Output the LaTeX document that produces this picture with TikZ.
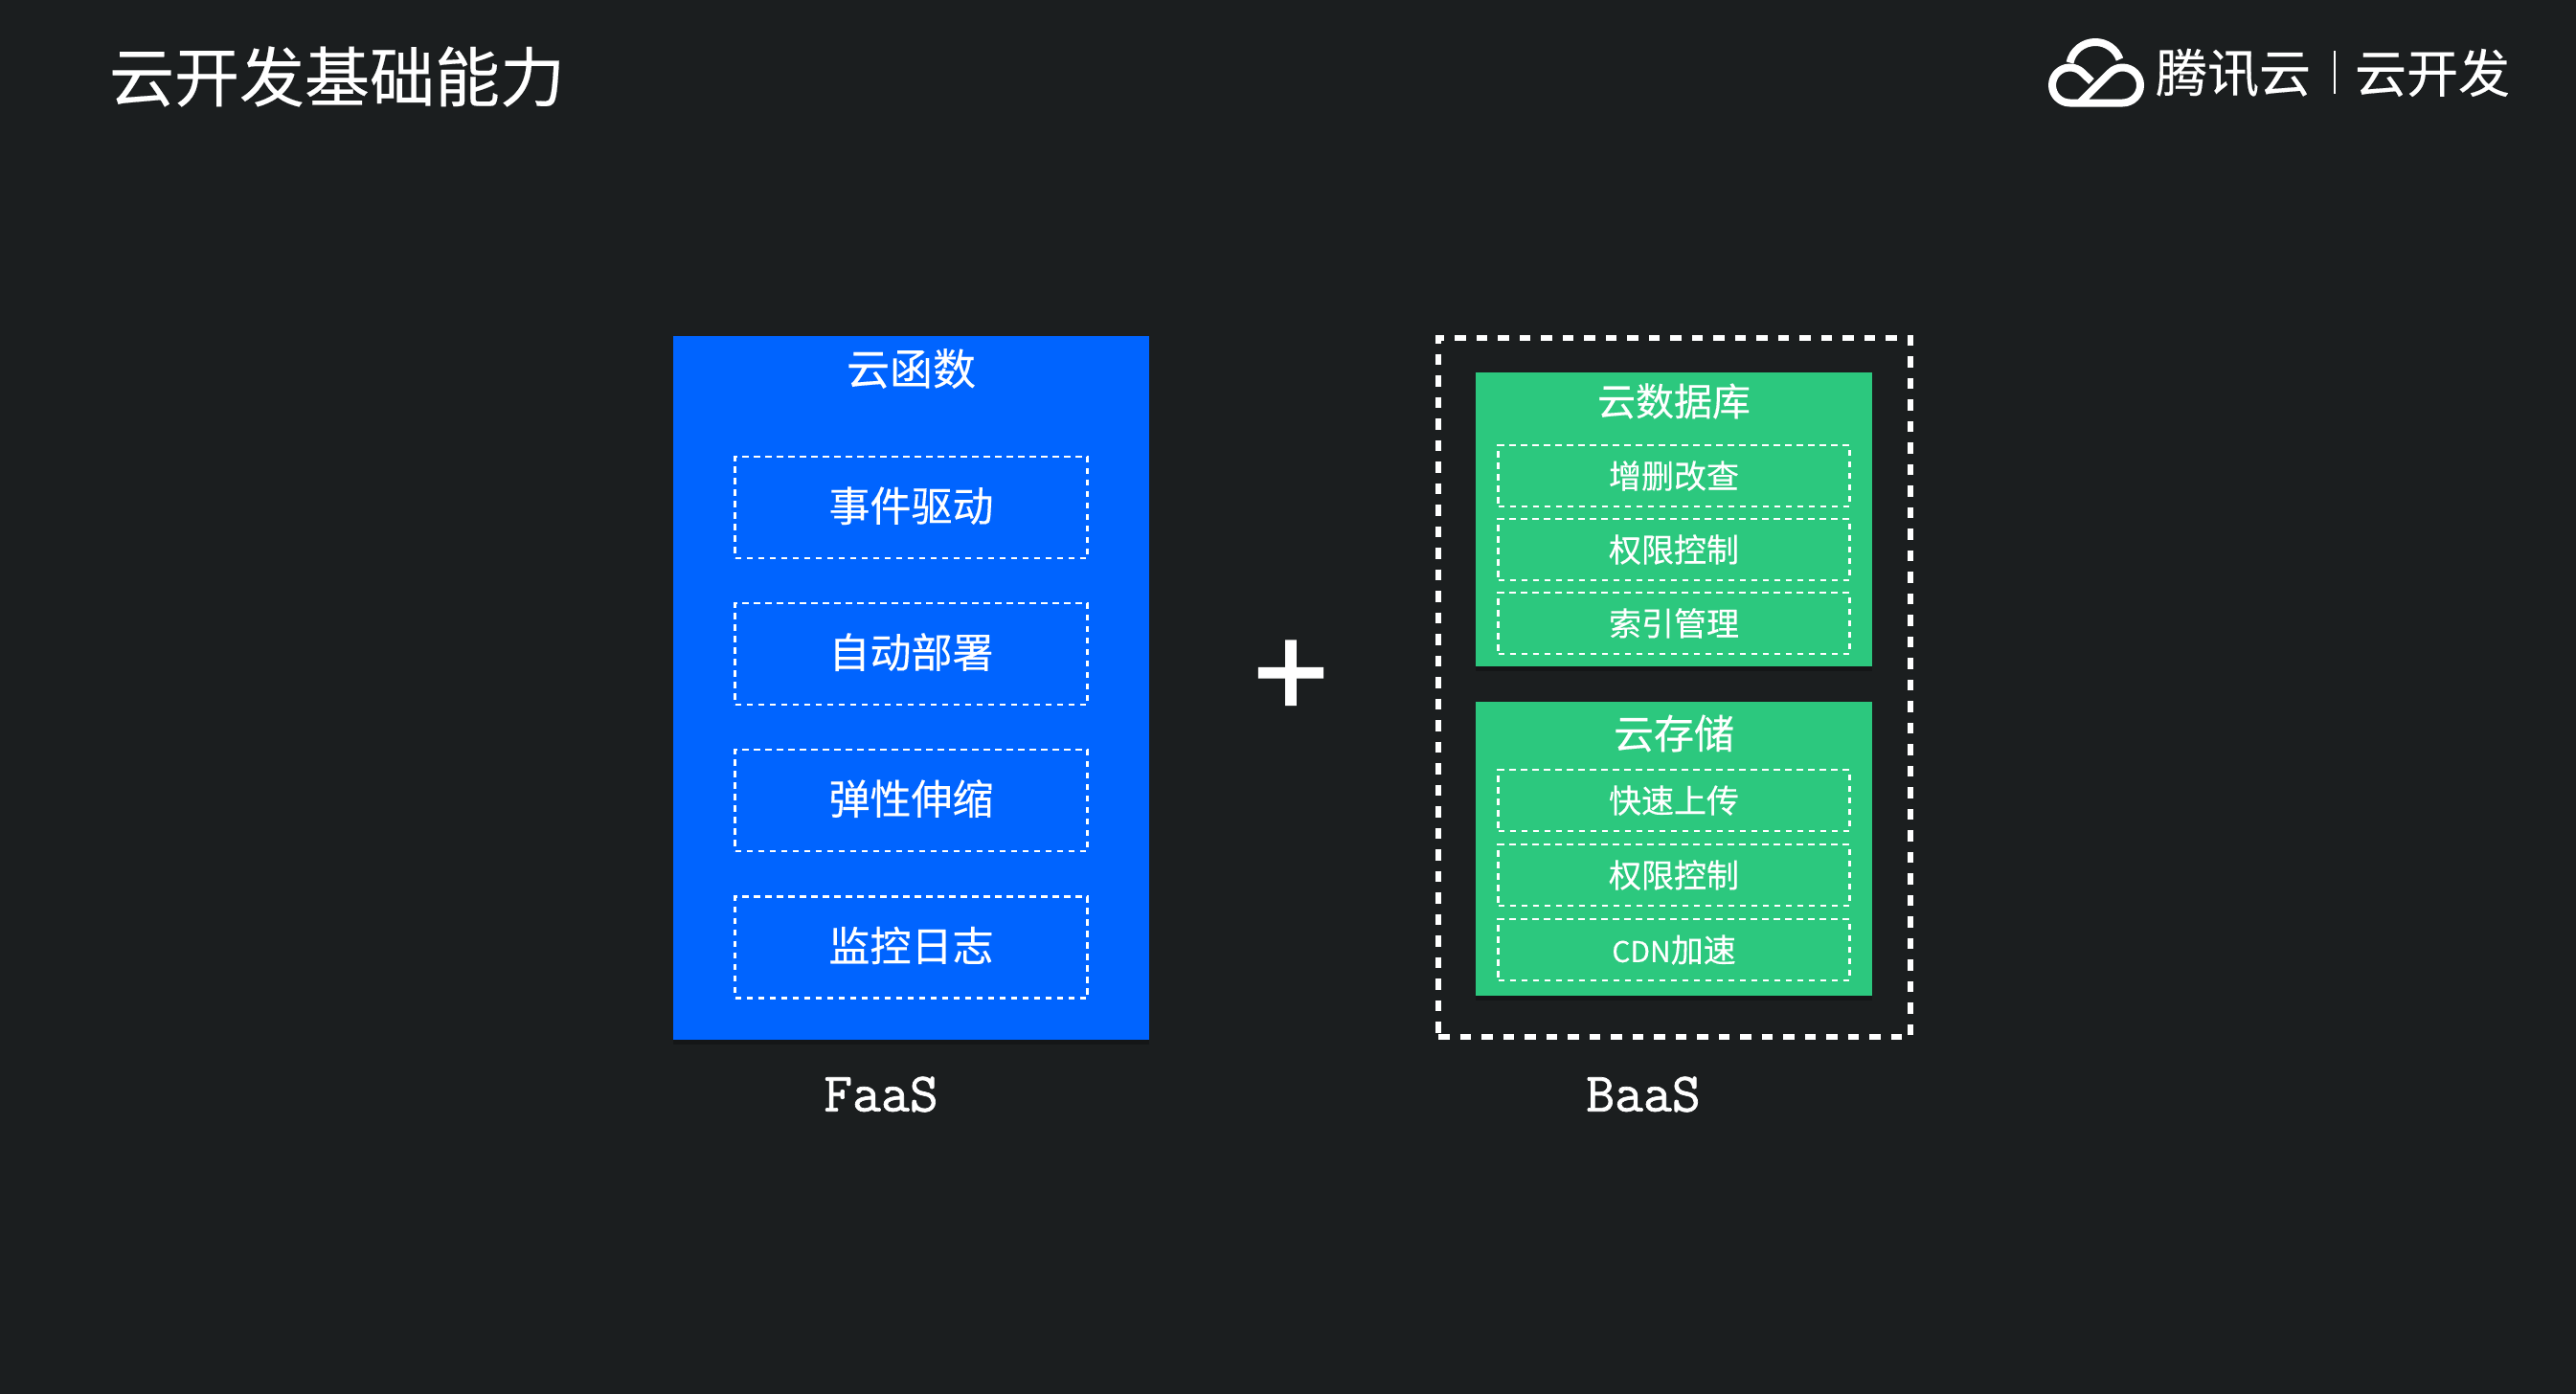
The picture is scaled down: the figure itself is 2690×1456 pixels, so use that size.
\documentclass[tikz,border=0pt]{standalone}
\usepackage{fontspec}
\usetikzlibrary{shadows}
\setmainfont{Noto Sans CJK SC}
\newfontfamily\cjk{Noto Sans CJK SC}[FakeBold=0.25]
\newfontfamily\monolabel{Latin Modern Mono}[FakeBold=1.2]
\newfontfamily\plusfont{Liberation Sans}[FakeBold=1.5]
\definecolor{bgdark}{HTML}{1B1E1F}
\definecolor{faasblue}{HTML}{0064FF}
\definecolor{baasgreen}{HTML}{2CC87E}
\newcommand{\fsz}[1]{\fontsize{#1pt}{#1pt}\selectfont}
\tikzset{
  panel/.style={rectangle,inner sep=0pt,outer sep=0pt,drop shadow={shadow xshift=0pt,shadow yshift=-5pt,opacity=.25,fill=black}},
  txt/.style={inner sep=0pt,outer sep=0pt,text=white,font=\cjk},
  itembox/.style={rectangle,draw=white,line width=2.6pt,dash pattern=on 6.5pt off 5.5pt,inner sep=0pt,outer sep=0pt,text=white,font=\cjk},
  itemlarge/.style={itembox,minimum width=368pt,minimum height=106pt,text height=29pt,text depth=0pt},
  itemsmall/.style={itembox,minimum width=367pt,minimum height=64pt,text height=25.8pt,text depth=0pt},
  outerdash/.style={rectangle,draw=white,line width=6pt,dash pattern=on 11.5pt off 11pt,inner sep=0pt,outer sep=0pt},
  logoline/.style={draw=white,line width=8pt,line cap=butt,line join=round},
}
\begin{document}
\begin{tikzpicture}[x=1pt,y=-1pt]
\useasboundingbox (0,0) rectangle (2690,1456);
\fill[bgdark] (0,0) rectangle (2690,1456);
% title
\node[txt] (title) at (352,80) {\fsz{68}云开发基础能力};
% logo
\draw[logoline] (2184,85) -- (2174.6,75.9)
  .. controls (2171.1,72.4) and (2166.4,70.5) .. (2161.5,70.5)
  .. controls (2151.3,70.5) and (2143,78.8) .. (2143,89)
  .. controls (2143,99.2) and (2151.3,107.5) .. (2161.5,107.5)
  -- (2216.5,107.5)
  .. controls (2226.7,107.5) and (2235,99.2) .. (2235,89)
  .. controls (2235,78.8) and (2226.7,70.5) .. (2216.5,70.5)
  .. controls (2211.6,70.5) and (2206.9,72.4) .. (2203.4,75.9)
  -- (2171.8,107.5);
\draw[logoline] (2161.5,65.5)
  .. controls (2164.1,53) and (2175.2,44) .. (2188,44)
  .. controls (2199.5,44) and (2209.7,51.2) .. (2213.5,62);
\node[txt] (logoa) at (2332,76) {\fsz{54}腾讯云};
\draw[white,line width=2pt] (2437.5,53) -- (2437.5,98);
\node[txt] (logob) at (2540,76) {\fsz{54}云开发};
% FaaS
\node[panel,fill=faasblue,minimum width=497pt,minimum height=735pt] (faas) at (951.5,718.5) {};
\node[txt] (faastitle) at (951.5,385) {\fsz{45}云函数};
\node[itemlarge] (f1) at (951.5,530) {\fsz{43}事件驱动};
\node[itemlarge] (f2) at (951.5,683) {\fsz{43}自动部署};
\node[itemlarge] (f3) at (951.5,836) {\fsz{43}弹性伸缩};
\node[itemlarge] (f4) at (951.5,989.5) {\fsz{43}监控日志};
\node[inner sep=0pt,text=white,font=\monolabel] (faaslabel) at (920,1143) {\fsz{58}FaaS};
% plus
\node[inner sep=0pt,text=white,font=\plusfont,text height=90pt,text depth=0pt] (plus) at (1348,703) {\fsz{136}+};
% BaaS
\node[outerdash,minimum width=493pt,minimum height=730pt] (baas) at (1748.5,718) {};
\node[panel,fill=baasgreen,minimum width=414pt,minimum height=307pt] (db) at (1748,542.5) {};
\node[txt] (dbtitle) at (1748,419) {\fsz{40}云数据库};
\node[itemsmall] (d1) at (1748,497) {\fsz{34}增删改查};
\node[itemsmall] (d2) at (1748,574) {\fsz{34}权限控制};
\node[itemsmall] (d3) at (1748,651) {\fsz{34}索引管理};
\node[panel,fill=baasgreen,minimum width=414pt,minimum height=307pt] (st) at (1748,886) {};
\node[txt] (sttitle) at (1748,766) {\fsz{42}云存储};
\node[itemsmall] (s1) at (1748,836) {\fsz{34}快速上传};
\node[itemsmall] (s2) at (1748,914) {\fsz{34}权限控制};
\node[itemsmall] (s3) at (1748,992) {\fsz{30}CDN\fsz{34}加速};
\node[inner sep=0pt,text=white,font=\monolabel] (baaslabel) at (1716,1143) {\fsz{58}BaaS};
\end{tikzpicture}
\end{document}
